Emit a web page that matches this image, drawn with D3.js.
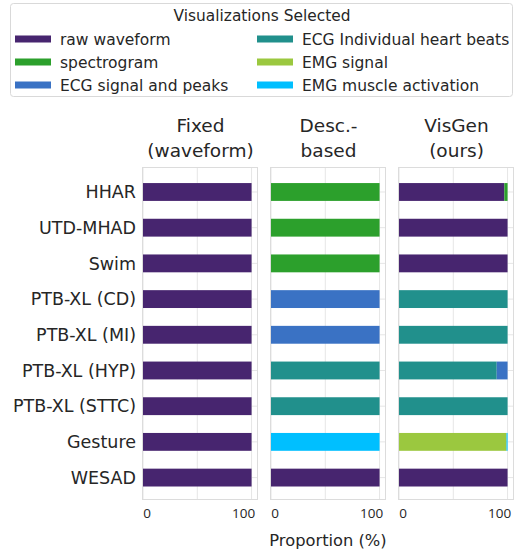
<!DOCTYPE html>
<html><head><meta charset="utf-8">
<script src="https://cdn.jsdelivr.net/npm/d3@7"></script>
<style>body{margin:0;background:#fff}svg{display:block}text{font-family:"DejaVu Sans",sans-serif;fill:#262626}</style>
</head><body><div id="c"></div>
<script>
const categories = ["HHAR","UTD-MHAD","Swim","PTB-XL (CD)","PTB-XL (MI)","PTB-XL (HYP)","PTB-XL (STTC)","Gesture","WESAD"];
// legend order (column-major, 2 columns)
const visTypes = ["raw waveform","spectrogram","ECG signal and peaks","ECG Individual heart beats","EMG signal","EMG muscle activation"];
const visColors = ["#47256f","#2ca02c","#3a72c4","#21908c","#9bc83f","#00bfff"];
// order in which segments are stacked left to right
const stackOrder = ["raw waveform","spectrogram","ECG Individual heart beats","ECG signal and peaks","EMG signal","EMG muscle activation"];
const panelTitles = [["Fixed","(waveform)"],["Desc.-","based"],["VisGen","(ours)"]];
// proportions (%) per category, columns in stackOrder
const fixedValues = [
  [100,0,0,0,0,0],[100,0,0,0,0,0],[100,0,0,0,0,0],[100,0,0,0,0,0],[100,0,0,0,0,0],
  [100,0,0,0,0,0],[100,0,0,0,0,0],[100,0,0,0,0,0],[100,0,0,0,0,0]];
const descValues = [
  [0,100,0,0,0,0],[0,100,0,0,0,0],[0,100,0,0,0,0],[0,0,0,100,0,0],[0,0,0,100,0,0],
  [0,0,100,0,0,0],[0,0,100,0,0,0],[0,0,0,0,0,100],[100,0,0,0,0,0]];
const visgenValues = [
  [97,3,0,0,0,0],[100,0,0,0,0,0],[100,0,0,0,0,0],[0,0,100,0,0,0],[0,0,100,0,0,0],
  [0,0,90,10,0,0],[0,0,100,0,0,0],[0,0,0,0,99,1],[100,0,0,0,0,0]];
const xTicks = [0,100];
const xGrid = [0,50,100];

const W=516,H=552;
const svg=d3.select("#c").append("svg").attr("width",W).attr("height",H);
const panels=[{x0:142,data:fixedValues},{x0:270,data:descValues},{x0:398,data:visgenValues}];
const pw=115, pTop=167, pBottom=499;
const y=d3.scaleLinear().domain([-0.7,8.6]).range([pTop,pBottom]);
const barH=(y(1)-y(0))*0.5;
const color=d3.scaleOrdinal().domain(visTypes).range(visColors);
const tickShift={0:4,100:-8};

panels.forEach((p,pi)=>{
  const x=d3.scaleLinear().domain([0,105]).range([p.x0+1,p.x0+pw]);
  const g=svg.append("g");
  g.selectAll("line.vg").data(xGrid).join("line")
    .attr("x1",d=>x(d)).attr("x2",d=>x(d)).attr("y1",pTop).attr("y2",pBottom)
    .attr("stroke","#e6e6e6").attr("stroke-width",1);
  g.selectAll("line.hg").data(categories).join("line")
    .attr("x1",p.x0).attr("x2",p.x0+pw).attr("y1",(d,i)=>y(i)).attr("y2",(d,i)=>y(i))
    .attr("stroke","#e6e6e6").attr("stroke-width",1);
  const rows=p.data.map((vals,i)=>{let acc=0;return vals.map((v,k)=>{const s={i,k,x0:acc,x1:acc+v};acc+=v;return s;}).filter(s=>s.x1>s.x0);}).flat();
  g.selectAll("rect.b").data(rows).join("rect")
    .attr("x",d=>x(d.x0)).attr("width",d=>x(d.x1)-x(d.x0))
    .attr("y",d=>y(d.i)-barH/2).attr("height",barH)
    .attr("fill",d=>color(stackOrder[d.k]));
  g.append("rect").attr("x",p.x0+0.5).attr("y",pTop+0.5).attr("width",pw).attr("height",pBottom-pTop)
    .attr("fill","none").attr("stroke","#dcdcdc").attr("stroke-width",1);
  g.selectAll("text.t").data(xTicks).join("text")
    .attr("x",d=>x(d)+tickShift[d]).attr("y",518).attr("text-anchor","middle")
    .style("font-family","'Open Sans',sans-serif").style("font-size","13.5px").text(d=>d);
  const cx=p.x0+pw/2;
  panelTitles[pi].forEach((t,j)=>{
    g.append("text").attr("x",cx+1).attr("y",132+j*25).attr("text-anchor","middle")
      .style("font-size","18.5px").text(t);
  });
});
svg.selectAll("text.yl").data(categories).join("text")
  .attr("x",136).attr("y",(d,i)=>y(i)+6.3).attr("text-anchor","end")
  .style("font-size","17.5px").text(d=>d);
svg.append("text").attr("x",328).attr("y",546).attr("text-anchor","middle")
  .style("font-size","16.3px").text("Proportion (%)");

const lg=svg.append("g");
lg.append("rect").attr("x",10.5).attr("y",3.5).attr("width",502).attr("height",93).attr("rx",3)
  .attr("fill","#fff").attr("stroke","#d9d9d9");
lg.append("text").attr("x",262).attr("y",21).attr("text-anchor","middle").style("font-size","15.4px").text("Visualizations Selected");
visTypes.forEach((t,i)=>{
  const col=Math.floor(i/3), row=i%3;
  const px=col?257:15, py=39+row*23;
  lg.append("rect").attr("x",px).attr("y",py-3.5).attr("width",36).attr("height",7).attr("fill",visColors[i]);
  lg.append("text").attr("x",px+45).attr("y",py+5.5).style("font-size","15.5px").text(t);
});
</script></body></html>
